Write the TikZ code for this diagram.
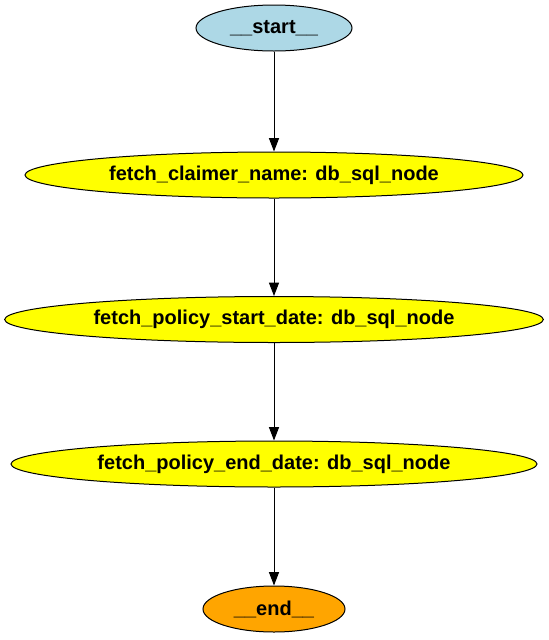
\documentclass[tikz,border=0pt]{standalone}
\usepackage{fontspec}
\setmainfont{Liberation Sans}
\usetikzlibrary{arrows.meta,shapes.geometric}
\definecolor{flowblue}{RGB}{173,216,230}
\definecolor{flowyellow}{RGB}{255,255,0}
\definecolor{floworange}{RGB}{255,165,0}

\begin{document}
\begin{tikzpicture}[
  x=0.75pt,y=-0.75pt,
  step node/.style={ellipse,draw=black,line width=0.75pt,inner sep=0pt,minimum height=34.5pt,
    font=\bfseries\fontsize{15pt}{16pt}\selectfont},
  link/.style={-{Triangle[length=10pt,width=7.5pt]},draw=black,line width=0.75pt},
]
\useasboundingbox (0,0) rectangle (549,640);
% graph nodes, top to bottom
\node[step node,fill=flowblue,minimum width=117pt] (start) at (274,28) {\_\_start\_\_};
\node[step node,fill=flowyellow,minimum width=373.5pt] (claimer) at (274,175) {fetch\_claimer\_name: db\_sql\_node};
\node[step node,fill=flowyellow,minimum width=404pt] (pstart) at (274,319.5) {fetch\_policy\_start\_date: db\_sql\_node};
\node[step node,fill=flowyellow,minimum width=394.5pt] (pend) at (274,464) {fetch\_policy\_end\_date: db\_sql\_node};
\node[step node,fill=floworange,minimum width=106.5pt] (end) at (274,609) {\_\_end\_\_};

\draw[link] (start) -- (claimer);
\draw[link] (claimer) -- (pstart);
\draw[link] (pstart) -- (pend);
\draw[link] (pend) -- (end);
\end{tikzpicture}
\end{document}
